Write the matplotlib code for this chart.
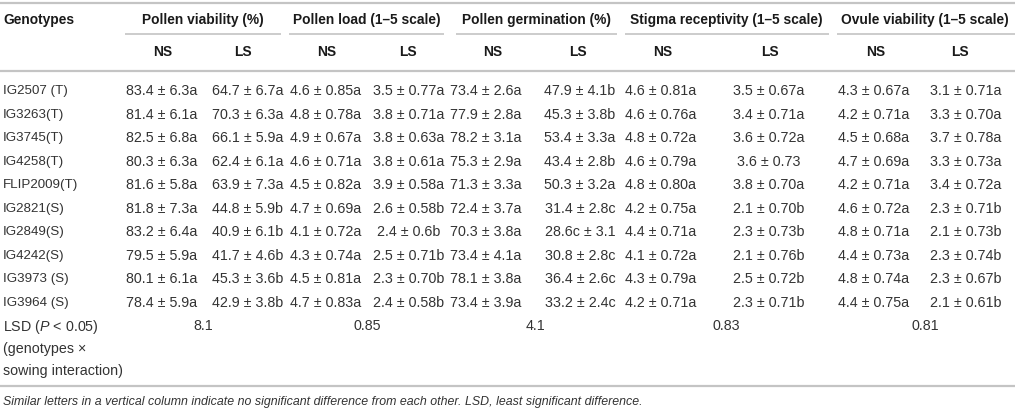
import matplotlib
matplotlib.use("Agg")
import matplotlib.pyplot as plt

plt.rcParams['font.family'] = ['Liberation Sans', 'DejaVu Sans']
plt.rcParams['mathtext.fontset'] = 'custom'
plt.rcParams['mathtext.rm'] = 'Liberation Sans'
plt.rcParams['mathtext.it'] = 'Liberation Sans:italic'

# ---------------- data ----------------
genotypes = ["IG2507 (T)", "IG3263(T)", "IG3745(T)", "IG4258(T)", "FLIP2009(T)",
             "IG2821(S)", "IG2849(S)", "IG4242(S)", "IG3973 (S)", "IG3964 (S)"]

traits = ["Pollen viability (%)", "Pollen load (1\u20135 scale)", "Pollen germination (%)",
          "Stigma receptivity (1\u20135 scale)", "Ovule viability (1\u20135 scale)"]
sowings = ["NS", "LS"]

pollen_viability_ns = ["83.4 ± 6.3a", "81.4 ± 6.1a", "82.5 ± 6.8a", "80.3 ± 6.3a", "81.6 ± 5.8a",
                       "81.8 ± 7.3a", "83.2 ± 6.4a", "79.5 ± 5.9a", "80.1 ± 6.1a", "78.4 ± 5.9a"]
pollen_viability_ls = ["64.7 ± 6.7a", "70.3 ± 6.3a", "66.1 ± 5.9a", "62.4 ± 6.1a", "63.9 ± 7.3a",
                       "44.8 ± 5.9b", "40.9 ± 6.1b", "41.7 ± 4.6b", "45.3 ± 3.6b", "42.9 ± 3.8b"]
pollen_load_ns = ["4.6 ± 0.85a", "4.8 ± 0.78a", "4.9 ± 0.67a", "4.6 ± 0.71a", "4.5 ± 0.82a",
                  "4.7 ± 0.69a", "4.1 ± 0.72a", "4.3 ± 0.74a", "4.5 ± 0.81a", "4.7 ± 0.83a"]
pollen_load_ls = ["3.5 ± 0.77a", "3.8 ± 0.71a", "3.8 ± 0.63a", "3.8 ± 0.61a", "3.9 ± 0.58a",
                  "2.6 ± 0.58b", "2.4 ± 0.6b", "2.5 ± 0.71b", "2.3 ± 0.70b", "2.4 ± 0.58b"]
pollen_germination_ns = ["73.4 ± 2.6a", "77.9 ± 2.8a", "78.2 ± 3.1a", "75.3 ± 2.9a", "71.3 ± 3.3a",
                         "72.4 ± 3.7a", "70.3 ± 3.8a", "73.4 ± 4.1a", "78.1 ± 3.8a", "73.4 ± 3.9a"]
pollen_germination_ls = ["47.9 ± 4.1b", "45.3 ± 3.8b", "53.4 ± 3.3a", "43.4 ± 2.8b", "50.3 ± 3.2a",
                         "31.4 ± 2.8c", "28.6c ± 3.1", "30.8 ± 2.8c", "36.4 ± 2.6c", "33.2 ± 2.4c"]
stigma_receptivity_ns = ["4.6 ± 0.81a", "4.6 ± 0.76a", "4.8 ± 0.72a", "4.6 ± 0.79a", "4.8 ± 0.80a",
                         "4.2 ± 0.75a", "4.4 ± 0.71a", "4.1 ± 0.72a", "4.3 ± 0.79a", "4.2 ± 0.71a"]
stigma_receptivity_ls = ["3.5 ± 0.67a", "3.4 ± 0.71a", "3.6 ± 0.72a", "3.6 ± 0.73", "3.8 ± 0.70a",
                         "2.1 ± 0.70b", "2.3 ± 0.73b", "2.1 ± 0.76b", "2.5 ± 0.72b", "2.3 ± 0.71b"]
ovule_viability_ns = ["4.3 ± 0.67a", "4.2 ± 0.71a", "4.5 ± 0.68a", "4.7 ± 0.69a", "4.2 ± 0.71a",
                      "4.6 ± 0.72a", "4.8 ± 0.71a", "4.4 ± 0.73a", "4.8 ± 0.74a", "4.4 ± 0.75a"]
ovule_viability_ls = ["3.1 ± 0.71a", "3.3 ± 0.70a", "3.7 ± 0.78a", "3.3 ± 0.73a", "3.4 ± 0.72a",
                      "2.3 ± 0.71b", "2.1 ± 0.73b", "2.3 ± 0.74b", "2.3 ± 0.67b", "2.1 ± 0.61b"]
lsd_values = ["8.1", "0.85", "4.1", "0.83", "0.81"]

lsd_label = ["LSD ($P$ < 0.05)", "(genotypes \u00d7", "sowing interaction)"]
footnote = ("Similar letters in a vertical column indicate no significant difference from each other. "
            "LSD, least significant difference.")

columns = [pollen_viability_ns, pollen_viability_ls, pollen_load_ns, pollen_load_ls,
           pollen_germination_ns, pollen_germination_ls, stigma_receptivity_ns,
           stigma_receptivity_ls, ovule_viability_ns, ovule_viability_ls]

# ---------------- layout (pixels) ----------------
W, H = 1015, 408
fig = plt.figure(figsize=(W / 100, H / 100), dpi=100)
ax = fig.add_axes([0, 0, 1, 1])
ax.set_xlim(0, W)
ax.set_ylim(H, 0)
ax.axis('off')

head_col = '#1a1a1a'
text_col = '#333333'
line_col = '#c4c4c4'
fs = 10.3
gfs = 9.6
hfs = 9.9

group_centers = [203, 367, 536, 726, 925]
group_lines = [(125, 281), (289, 444), (456, 617), (625, 829), (837, 1015)]
col_centers = [162, 248, 326, 409, 486, 580, 661, 769, 874, 966]
sub_centers = [163, 243, 327, 408, 493, 578, 663, 770, 876, 960]

y_head = 20
y_sub = 52
y_row0 = 91
dy = 23.55

# rules
ax.plot([0, W], [2.5, 2.5], color=line_col, lw=1.6, solid_capstyle='butt')
ax.plot([0, W], [70.5, 70.5], color=line_col, lw=1.6, solid_capstyle='butt')
ax.plot([0, W], [385.5, 385.5], color=line_col, lw=1.6, solid_capstyle='butt')
for x0, x1 in group_lines:
    ax.plot([x0, x1], [34, 34], color=line_col, lw=1.2, solid_capstyle='butt')

# headers
ax.text(3, y_head, "Genotypes", fontsize=hfs, fontweight='bold', color=head_col,
        ha='left', va='center')
for t, xc in zip(traits, group_centers):
    ax.text(xc, y_head, t, fontsize=hfs, fontweight='bold', color=head_col,
            ha='center', va='center')
for i, xc in enumerate(sub_centers):
    ax.text(xc, y_sub, sowings[i % 2], fontsize=hfs, fontweight='bold', color=head_col,
            ha='center', va='center')

# body
for r, g in enumerate(genotypes):
    y = y_row0 + r * dy
    ax.text(3, y, g, fontsize=gfs, color=text_col, ha='left', va='center')
    for c, col in enumerate(columns):
        ax.text(col_centers[c], y, col[r], fontsize=fs, color=text_col,
                ha='center', va='center')

y_lsd = y_row0 + len(genotypes) * dy
for k, s in enumerate(lsd_label):
    ax.text(3, y_lsd + k * 22.5, s, fontsize=fs, color=text_col, ha='left', va='center')
for v, xc in zip(lsd_values, group_centers):
    ax.text(xc, y_lsd, v, fontsize=fs, color=text_col, ha='center', va='center')

ax.text(3, 402, footnote, fontsize=8.95, style='italic', color=text_col,
        ha='left', va='center')

fig.savefig("out.png", dpi=100)
